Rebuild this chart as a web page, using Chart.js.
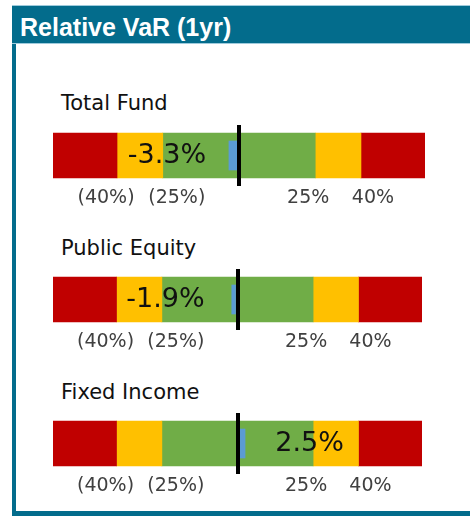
<!DOCTYPE html>
<html>
<head>
<meta charset="utf-8">
<script src="https://cdn.jsdelivr.net/npm/chart.js@4.4.1/dist/chart.umd.min.js"></script>
<style>
  html, body { margin: 0; padding: 0; background: #fff; }
  body { width: 470px; height: 516px; position: relative; overflow: hidden; font-family: "DejaVu Sans", sans-serif; }
  .frame { position: absolute; left: 12px; top: 5px; width: 470px; height: 506px; border-left: 4px solid #036c8c; border-bottom: 5px solid #036c8c; }
  .header { position: absolute; left: 12px; top: 5px; width: 470px; height: 37px; background: #036c8c; border-top: 1px solid #9fcbdc; border-bottom: 1px solid #9fcbdc; }
  .header-text { position: absolute; left: 20px; top: 15px; font: bold 25px/25px "Liberation Sans", Arial, sans-serif; color: #fff; white-space: nowrap; }
  .panel-title { position: absolute; left: 61px; font-size: 21px; line-height: 21px; color: #111; white-space: nowrap; }
  canvas { position: absolute; left: 0; }
</style>
</head>
<body>
<div class="frame"></div>
<div class="header"></div>
<div class="header-text">Relative VaR (1yr)</div>
<div id="panels"></div>

<script>
  // values
  const panelNames = ["Total Fund", "Public Equity", "Fixed Income"];
  const relativeVar = [-3.3, -1.9, 2.5];
  const bandEdges = [-61, -40, -25, 25, 40, 61];
  const bandColors = ["#C00000", "#FFC000", "#70AD47", "#FFC000", "#C00000"];
  const tickValues = [-40, -25, 0, 25, 40];
  const tickLabels = ["(40%)", "(25%)", "", "25%", "40%"];

  // page layout for each panel
  const titleTop = [93, 238, 382];
  const canvasTop = [120, 264, 408];
  const padRight = [45, 48, 48];
  // the labels under the bars sit a little off their tick marks
  const tickNudge = [-11, 14, 0, -7, 12];

  const valueLabel = {
    id: "valueLabel",
    afterDatasetsDraw(chart) {
      const v = chart.data.datasets[0].data[0];
      const x = chart.scales.x.getPixelForValue(0) + Math.sign(v) * 72;
      const y = chart.scales.y.getPixelForValue(0);
      const ctx = chart.ctx;
      ctx.save();
      ctx.font = '27px "DejaVu Sans"';
      ctx.fillStyle = "#111";
      ctx.textAlign = "center";
      ctx.textBaseline = "middle";
      ctx.fillText(v.toFixed(1) + "%", x, y);
      ctx.restore();
    }
  };

  const tickText = {
    id: "tickText",
    afterDraw(chart) {
      const sx = chart.scales.x;
      const ctx = chart.ctx;
      ctx.save();
      ctx.font = '19px "DejaVu Sans"';
      ctx.fillStyle = "#404040";
      ctx.textAlign = "center";
      ctx.textBaseline = "alphabetic";
      tickValues.forEach((v, k) => {
        if (!tickLabels[k]) return;
        ctx.fillText(tickLabels[k], sx.getPixelForValue(v) + tickNudge[k], chart.chartArea.bottom + 17);
      });
      ctx.restore();
    }
  };

  const holder = document.getElementById("panels");

  panelNames.forEach((name, i) => {
    const title = document.createElement("div");
    title.className = "panel-title";
    title.style.top = titleTop[i] + "px";
    title.textContent = name;
    holder.appendChild(title);

    const canvas = document.createElement("canvas");
    canvas.width = 470;
    canvas.height = 89;
    canvas.style.top = canvasTop[i] + "px";
    holder.appendChild(canvas);

    const bands = bandColors.map((c, k) => ({
      data: [[bandEdges[k], bandEdges[k + 1]]],
      backgroundColor: c,
      barThickness: 45,
      grouped: false
    }));

    new Chart(canvas, {
      type: "bar",
      data: {
        labels: [name],
        datasets: [
          { data: [relativeVar[i]], backgroundColor: "#5B9BD5", barThickness: 29, grouped: false },
          ...bands
        ]
      },
      options: {
        indexAxis: "y",
        responsive: false,
        animation: false,
        devicePixelRatio: 1,
        layout: { padding: { top: 5, left: 53, right: padRight[i], bottom: 23 } },
        plugins: { legend: { display: false }, tooltip: { enabled: false } },
        scales: {
          x: {
            type: "linear",
            min: bandEdges[0],
            max: bandEdges[bandEdges.length - 1],
            afterBuildTicks: (scale) => { scale.ticks = tickValues.map(v => ({ value: v })); },
            ticks: { display: false },
            grid: {
              z: 1,
              drawTicks: false,
              color: (c) => (c.tick && c.tick.value === 0 ? "#000" : "rgba(0,0,0,0)"),
              lineWidth: (c) => (c.tick && c.tick.value === 0 ? 4 : 0)
            },
            border: { display: false }
          },
          y: { display: false }
        }
      },
      plugins: [valueLabel, tickText]
    });
  });
</script>
</body>
</html>
